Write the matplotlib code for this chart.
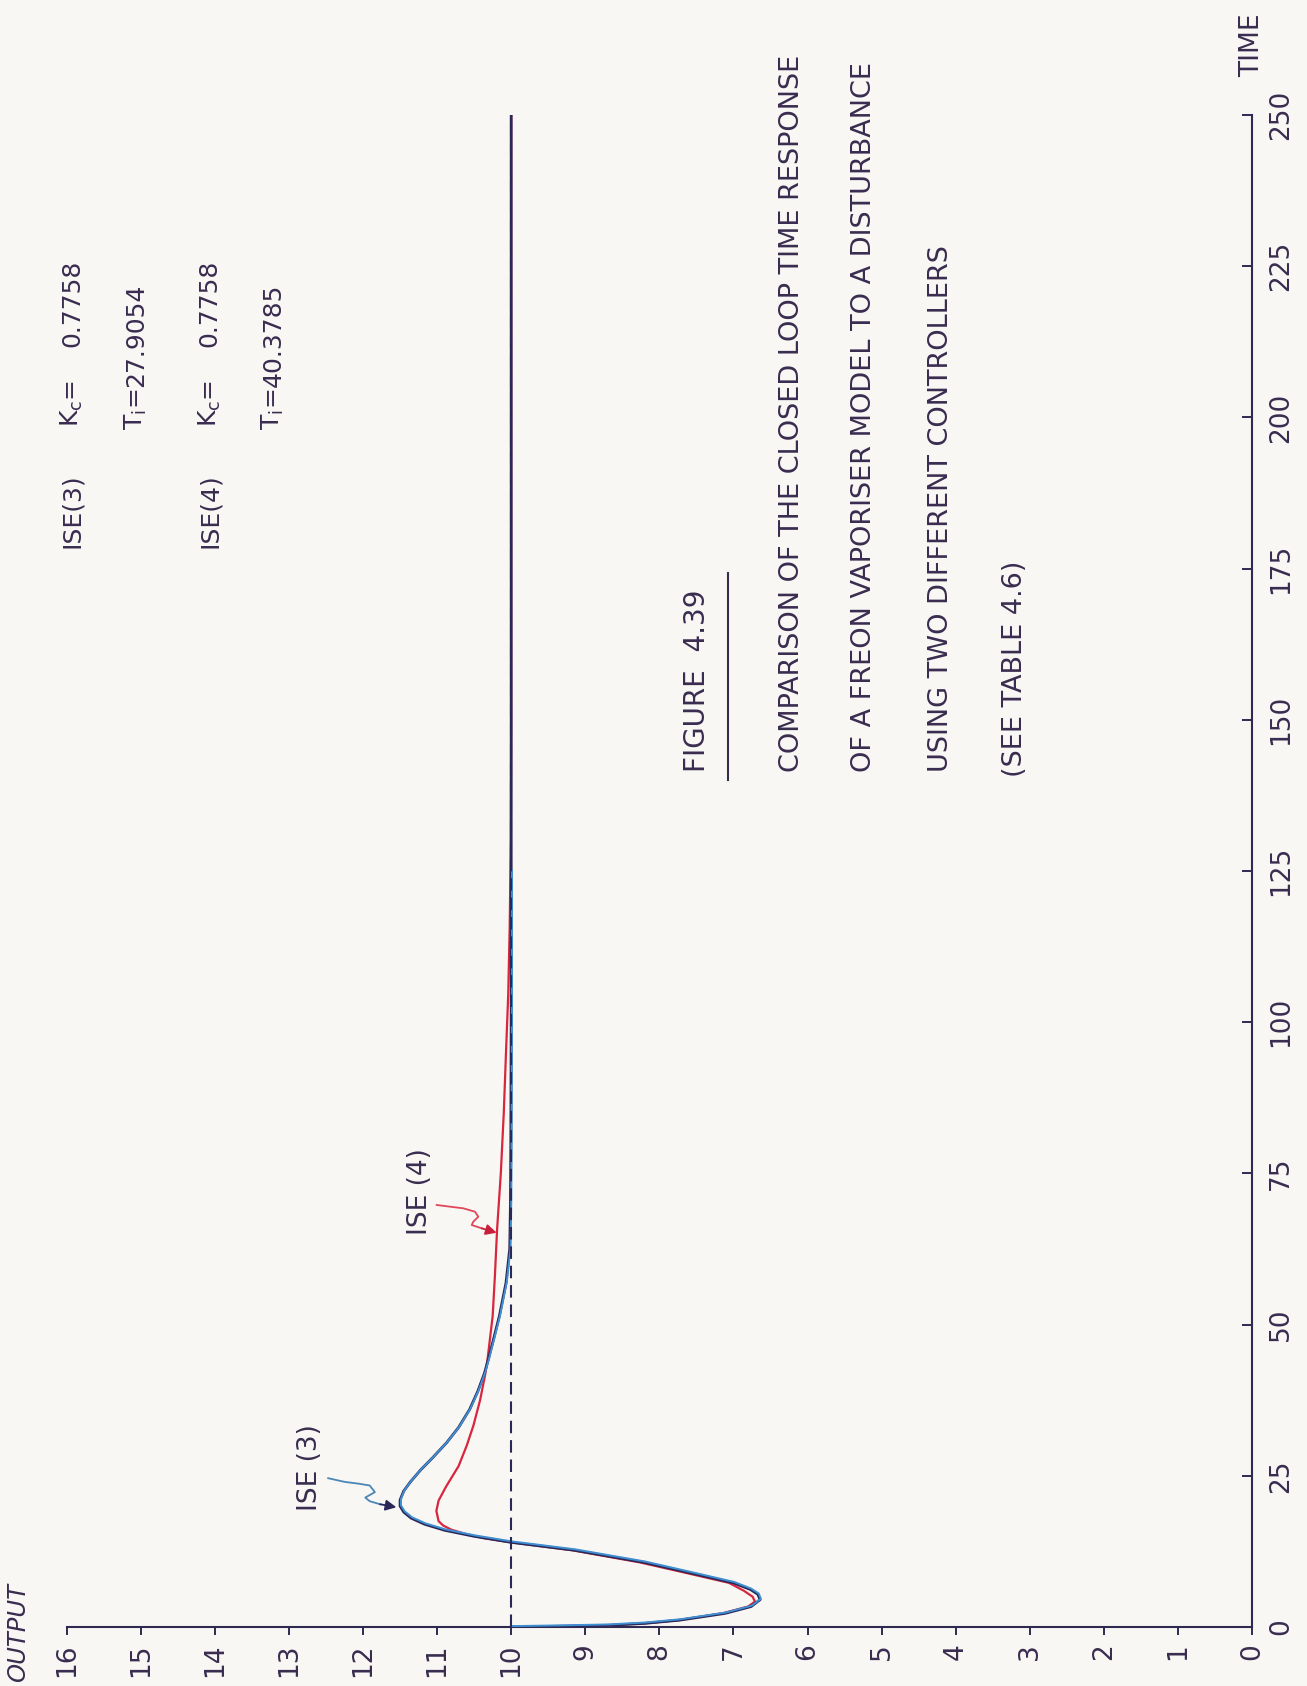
import matplotlib
matplotlib.use("Agg")
import matplotlib.pyplot as plt
from matplotlib import transforms

# ---------------------------------------------------------------
# Closed loop response of the Freon vaporiser model (output vs time)
# ---------------------------------------------------------------
time_ise3 = [0, 0.12, 0.28, 0.6, 1.13, 2.26, 3.39, 4.52, 5.4, 6.2, 7.3, 9.0,
             10.7, 12.7, 14.0, 15.0, 16.0, 17.0, 18.0, 19.0, 20.0, 21.0, 22.5,
             24.0, 26.0, 28.0, 30.5, 33.0, 36.0, 39.0, 42.0, 44.2, 47.5, 51.4,
             56.9, 62.5, 70, 80, 100, 125, 150, 200, 250]
output_ise3 = [10, 9.35, 8.69, 8.2, 7.73, 7.11, 6.76, 6.64, 6.67, 6.77, 7.0, 7.6,
               8.21, 9.15, 10.0, 10.5, 10.9, 11.17, 11.35, 11.45, 11.5, 11.5,
               11.45, 11.36, 11.22, 11.06, 10.87, 10.71, 10.56, 10.45, 10.36,
               10.31, 10.24, 10.16, 10.07, 10.02, 10.01, 10.005, 10.0, 10.0,
               10.0, 10.0, 10.0]

time_ise4 = [0, 0.12, 0.28, 0.6, 1.13, 2.26, 3.39, 4.2, 5.0, 6.0, 7.3, 9.0,
             10.7, 12.7, 14.0, 14.7, 15.4, 16.1, 16.8, 17.5, 19.2, 20.9, 23.2,
             26.6, 30.0, 33.3, 37.5, 41.8, 44.2, 51.4, 58.0, 65.8, 75.0, 85.0,
             95.0, 104.6, 115.8, 130, 150, 200, 250]
output_ise4 = [10, 9.35, 8.69, 8.2, 7.74, 7.15, 6.8, 6.71, 6.74, 6.86, 7.06, 7.66,
               8.27, 9.18, 10.0, 10.37, 10.62, 10.81, 10.92, 10.98, 11.01, 10.98,
               10.88, 10.71, 10.6, 10.51, 10.42, 10.35, 10.32, 10.25, 10.22,
               10.19, 10.14, 10.10, 10.07, 10.04, 10.02, 10.005, 10.0, 10.0,
               10.0]

setpoint_time = [0, 250]
setpoint_output = [10, 10]

output_ticks = list(range(0, 17))
time_ticks = list(range(0, 251, 25))

# controller settings
ise3_kc, ise3_ti = "0.7758", "27.9054"
ise4_kc, ise4_ti = "0.7758", "40.3785"

# hand-drawn pointer squiggles (output, time)
arrow3_out = [12.47, 12.25, 12.06, 11.91, 11.84, 11.97, 11.91, 11.77, 11.55]
arrow3_time = [24.6, 24.0, 23.7, 23.4, 22.3, 21.4, 20.8, 20.3, 19.8]
arrow4_out = [11.006, 10.826, 10.647, 10.489, 10.444, 10.512, 10.533, 10.398, 10.196]
arrow4_time = [69.78, 69.50, 69.23, 68.67, 67.84, 67.01, 66.47, 65.92, 65.19]

# ---------------------------------------------------------------
PAPER = "#f8f7f3"
INK = "#3a2c50"
AXIS = "#2e2a52"
NAVY = "#2a2858"
BLUE = "#3f8fd2"
RED = "#d7263d"

plt.rcParams["font.family"] = ["DejaVu Sans"]
plt.rcParams["mathtext.default"] = "regular"

fig = plt.figure(figsize=(13.07, 16.86), dpi=100, facecolor=PAPER)
ax = fig.add_axes([0.05103, 0.03499, 0.90689, 0.89680])
ax.set_facecolor(PAPER)
ax.set_xlim(16, 0)
ax.set_ylim(0, 250)

for side in ("top", "left"):
    ax.spines[side].set_visible(False)
for side in ("bottom", "right"):
    ax.spines[side].set_color(AXIS)
    ax.spines[side].set_linewidth(1.5)

ax.yaxis.tick_right()
ax.set_xticks(output_ticks)
ax.set_yticks(time_ticks)
ax.tick_params(axis="x", direction="out", length=6, width=1.4, color=AXIS,
               pad=6, labelsize=19, labelcolor=INK, labelrotation=90)
ax.tick_params(axis="y", direction="in", length=7.5, width=1.4, color=AXIS,
               pad=11.5, labelsize=19, labelcolor=INK, labelrotation=90,
               right=True, left=False)
for lbl in ax.get_yticklabels():
    lbl.set_va("center")

# response curves
ax.plot(output_ise4, time_ise4, color=RED, lw=1.6, zorder=3)
ax.plot(output_ise3, time_ise3, color=NAVY, lw=2.0, zorder=4)
shift = transforms.offset_copy(ax.transData, fig=fig, x=0.8, y=0.9, units="dots")
n_blue = sum(1 for t in time_ise3 if t <= 125)
ax.plot(output_ise3[:n_blue], time_ise3[:n_blue], color=BLUE, lw=1.4,
        zorder=5, transform=shift)
ax.plot(setpoint_output, setpoint_time, color=NAVY, lw=1.5, dashes=(6, 3.3),
        zorder=6)


def vtext(x, y, s, size, **kw):
    ax.text(x, y, s, rotation=90, rotation_mode="anchor", ha="left",
            va="center", fontsize=size, color=INK, clip_on=False, **kw)


# controller parameter block
for x_row, name, x_ti, kc, ti in ((15.93, "ISE(3)", 15.06, ise3_kc, ise3_ti),
                                  (14.07, "ISE(4)", 13.21, ise4_kc, ise4_ti)):
    vtext(x_row, 178.4, name, 18)
    vtext(x_row, 198.4, "K$_c$=", 18)
    vtext(x_row, 211.6, kc, 18)
    vtext(x_ti, 197.9, "T$_i$=", 18)
    vtext(x_ti, 205.0, ti, 18)

# caption
vtext(7.49, 141.4, "FIGURE  4.39", 20)
ax.plot([7.078, 7.078], [140.0, 174.3], color=INK, lw=1.5, clip_on=False)
vtext(6.213, 141.4, "COMPARISON OF THE CLOSED LOOP TIME RESPONSE", 19.5)
vtext(5.238, 141.4, "OF A FREON VAPORISER MODEL TO A DISTURBANCE", 19.5)
vtext(4.202, 141.4, "USING TWO DIFFERENT CONTROLLERS", 19.5)
vtext(3.199, 140.6, "(SEE TABLE 4.6)", 19.5)

# curve labels with pointers
vtext(12.71, 19.2, "ISE (3)", 19)
ax.plot(arrow3_out[:-1], arrow3_time[:-1], color="#4a86b8", lw=1.3, zorder=7)
ax.annotate("", xy=(arrow3_out[-1], arrow3_time[-1]),
            xytext=(arrow3_out[-2], arrow3_time[-2]),
            arrowprops=dict(arrowstyle="-|>", color=NAVY, lw=1.3,
                            mutation_scale=16, shrinkA=0, shrinkB=0), zorder=7)

vtext(11.23, 64.8, "ISE (4)", 19)
ax.plot(arrow4_out[:-1], arrow4_time[:-1], color="#e0485a", lw=1.3, zorder=7)
ax.annotate("", xy=(arrow4_out[-1], arrow4_time[-1]),
            xytext=(arrow4_out[-2], arrow4_time[-2]),
            arrowprops=dict(arrowstyle="-|>", color="#c81f3a", lw=1.3,
                            mutation_scale=16, shrinkA=0, shrinkB=0), zorder=7)

# axis titles
vtext(0, 256.3, "TIME", 19)
vtext(16.66, -9.1, "OUTPUT", 17.5, style="italic")

fig.savefig("out.png", dpi=100, facecolor=PAPER)
